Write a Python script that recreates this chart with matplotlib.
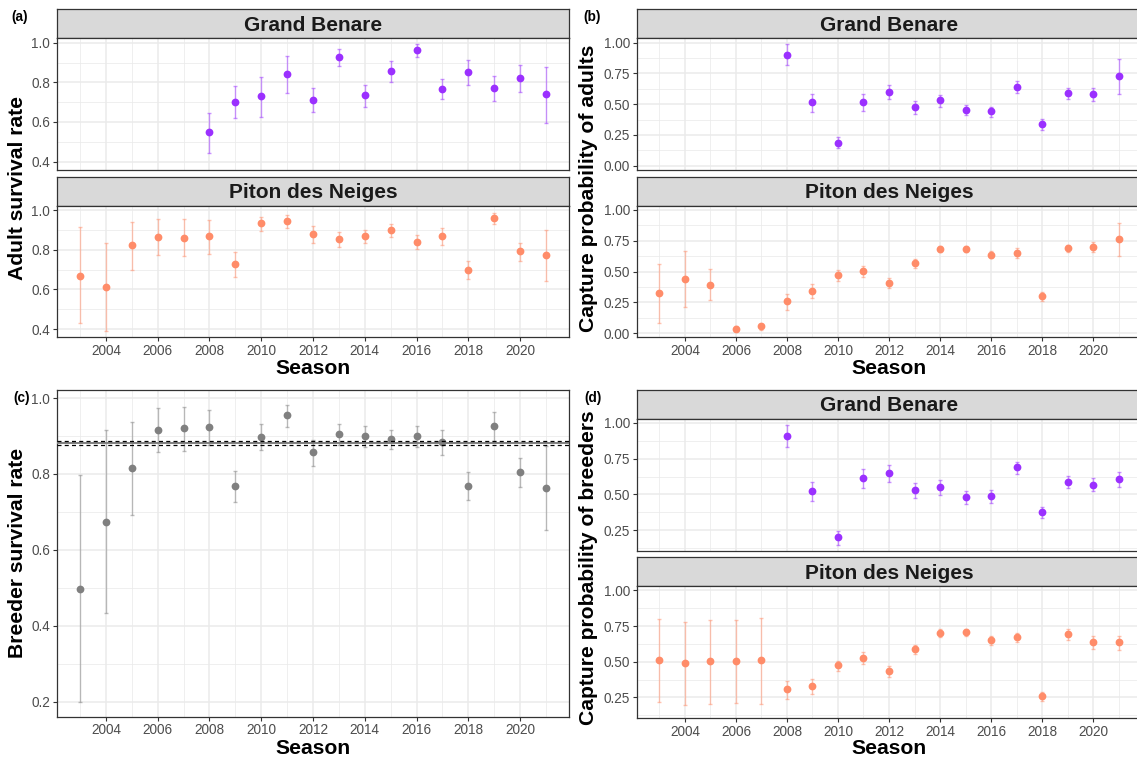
import numpy as np
import matplotlib
matplotlib.use("Agg")
import matplotlib.pyplot as plt
from matplotlib.ticker import FormatStrFormatter

plt.rcParams["font.family"] = ["Liberation Sans", "DejaVu Sans"]

# ---------------------------------------------------------------- data
seasons = list(range(2003, 2022))          # Piton des Neiges / all breeders
gb_seasons = list(range(2008, 2022))       # Grand Benare

# (a) adult survival rate
surv_gb = [0.550, 0.703, 0.730, 0.843, 0.713, 0.927, 0.737, 0.855, 0.962, 0.767, 0.850, 0.772, 0.822, 0.740]
surv_gb_lo = [0.445, 0.620, 0.627, 0.747, 0.652, 0.880, 0.677, 0.802, 0.930, 0.717, 0.787, 0.708, 0.752, 0.597]
surv_gb_hi = [0.645, 0.780, 0.827, 0.933, 0.773, 0.970, 0.787, 0.907, 0.992, 0.817, 0.912, 0.832, 0.885, 0.877]

surv_pdn = [0.670, 0.613, 0.823, 0.865, 0.860, 0.868, 0.727, 0.933, 0.945, 0.877, 0.853, 0.868, 0.900, 0.838, 0.868, 0.697, 0.962, 0.793, 0.773]
surv_pdn_lo = [0.430, 0.388, 0.700, 0.775, 0.768, 0.780, 0.663, 0.897, 0.910, 0.832, 0.813, 0.833, 0.865, 0.802, 0.823, 0.652, 0.930, 0.743, 0.642]
surv_pdn_hi = [0.913, 0.832, 0.940, 0.955, 0.955, 0.950, 0.788, 0.967, 0.975, 0.920, 0.887, 0.898, 0.930, 0.875, 0.910, 0.742, 0.985, 0.835, 0.900]

# (b) capture probability of adults
cap_gb = [0.900, 0.518, 0.187, 0.518, 0.602, 0.480, 0.531, 0.455, 0.442, 0.640, 0.336, 0.590, 0.580, 0.726]
cap_gb_lo = [0.816, 0.439, 0.141, 0.444, 0.545, 0.420, 0.474, 0.409, 0.393, 0.593, 0.287, 0.542, 0.523, 0.580]
cap_gb_hi = [0.986, 0.585, 0.236, 0.580, 0.656, 0.526, 0.577, 0.496, 0.480, 0.686, 0.379, 0.634, 0.634, 0.864]

cap_pdn = [0.324, 0.440, 0.392, 0.035, 0.054, 0.257, 0.346, 0.473, 0.505, 0.411, 0.573, 0.686, 0.686, 0.638, 0.654, 0.300, 0.689, 0.703, 0.765]
cap_pdn_lo = [0.084, 0.210, 0.265, 0.014, 0.027, 0.189, 0.289, 0.424, 0.459, 0.365, 0.530, 0.657, 0.657, 0.608, 0.611, 0.262, 0.657, 0.657, 0.630]
cap_pdn_hi = [0.562, 0.668, 0.519, 0.060, 0.078, 0.319, 0.395, 0.516, 0.543, 0.451, 0.605, 0.711, 0.711, 0.670, 0.692, 0.338, 0.719, 0.743, 0.892]

# (c) breeder survival rate
brd_surv = [0.498, 0.674, 0.815, 0.917, 0.920, 0.923, 0.768, 0.897, 0.954, 0.857, 0.905, 0.899, 0.892, 0.899, 0.883, 0.768, 0.925, 0.804, 0.762]
brd_surv_lo = [0.200, 0.434, 0.691, 0.857, 0.861, 0.875, 0.725, 0.862, 0.924, 0.820, 0.875, 0.870, 0.867, 0.872, 0.850, 0.732, 0.888, 0.766, 0.652]
brd_surv_hi = [0.796, 0.915, 0.937, 0.975, 0.976, 0.968, 0.809, 0.932, 0.982, 0.889, 0.932, 0.925, 0.916, 0.926, 0.915, 0.806, 0.963, 0.842, 0.873]
brd_surv_mean = 0.881
brd_surv_mean_ci = [0.875, 0.887]

# (d) capture probability of breeders
bcap_gb = [0.911, 0.525, 0.199, 0.613, 0.653, 0.532, 0.550, 0.481, 0.485, 0.690, 0.376, 0.588, 0.567, 0.604]
bcap_gb_lo = [0.835, 0.450, 0.147, 0.546, 0.585, 0.474, 0.497, 0.429, 0.439, 0.646, 0.331, 0.541, 0.520, 0.548]
bcap_gb_hi = [0.986, 0.588, 0.245, 0.679, 0.706, 0.578, 0.602, 0.522, 0.532, 0.727, 0.408, 0.627, 0.611, 0.655]

bcap_pdn = [0.513, 0.490, 0.502, 0.508, 0.513, 0.306, 0.329, 0.474, 0.525, 0.432, 0.590, 0.704, 0.709, 0.655, 0.672, 0.259, 0.697, 0.637, 0.637]
bcap_pdn_lo = [0.215, 0.194, 0.206, 0.210, 0.206, 0.238, 0.273, 0.434, 0.485, 0.392, 0.557, 0.672, 0.681, 0.620, 0.639, 0.227, 0.655, 0.592, 0.585]
bcap_pdn_hi = [0.802, 0.781, 0.793, 0.795, 0.807, 0.364, 0.376, 0.506, 0.567, 0.467, 0.620, 0.730, 0.732, 0.683, 0.702, 0.290, 0.732, 0.679, 0.679]

site_names = ["Grand Benare", "Piton des Neiges"]
col_gb = "#9B30FF"
col_pdn = "#FF8C69"
col_all = "#808080"

# ---------------------------------------------------------------- layout
W, H = 1137, 761
fig = plt.figure(figsize=(W / 100, H / 100), dpi=100)

GRID = "#EBEBEB"
FRAME = "#333333"
TICKTXT = "#4D4D4D"


def rect(x0, y0, x1, y1):
    return [x0 / W, 1 - y1 / H, (x1 - x0) / W, (y1 - y0) / H]


def expand(lo_lists, hi_lists, mult=0.05):
    lo = min(min(v) for v in lo_lists)
    hi = max(max(v) for v in hi_lists)
    pad = (hi - lo) * mult
    return lo - pad, hi + pad


x_lim = (seasons[0] - 0.05 * (seasons[-1] - seasons[0]),
         seasons[-1] + 0.05 * (seasons[-1] - seasons[0]))
x_major = list(range(2004, 2021, 2))
x_minor = list(range(2003, 2022, 2))


def style_panel(ax, ylim, y_major, fmt, show_x):
    ax.set_xlim(*x_lim)
    ax.set_ylim(*ylim)
    ax.set_xticks(x_major)
    ax.set_xticks(x_minor, minor=True)
    ax.set_yticks(y_major)
    step = y_major[1] - y_major[0]
    y_minor = [v + step / 2 for v in [y_major[0] - step] + y_major]
    y_minor = [v for v in y_minor if ylim[0] < v < ylim[1]]
    ax.set_yticks(y_minor, minor=True)
    ax.yaxis.set_major_formatter(FormatStrFormatter(fmt))
    ax.grid(which="major", color=GRID, lw=1.1, zorder=0)
    ax.grid(which="minor", color=GRID, lw=0.55, zorder=0)
    ax.set_axisbelow(True)
    for s in ax.spines.values():
        s.set_color(FRAME)
        s.set_linewidth(0.9)
    ax.tick_params(which="minor", length=0)
    ax.tick_params(axis="y", which="major", length=2.8, width=0.8, color=FRAME,
                   labelsize=9.8, labelcolor=TICKTXT, pad=2)
    if show_x:
        ax.tick_params(axis="x", which="major", length=2.8, width=0.8, color=FRAME,
                       labelsize=9.8, labelcolor=TICKTXT, pad=2)
    else:
        ax.tick_params(axis="x", which="major", length=0, labelbottom=False)


def draw_series(ax, years, est, lo, hi, color, lw=1.0):
    est = np.asarray(est)
    err = [est - np.asarray(lo), np.asarray(hi) - est]
    ax.errorbar(years, est, yerr=err, fmt="none", ecolor=color, alpha=0.5,
                elinewidth=lw, capsize=1.2, capthick=lw, zorder=3)
    ax.plot(years, est, "o", color=color, ms=5.6, mec="none", zorder=4)


def strip(x0, y0, x1, y1, label):
    s = fig.add_axes(rect(x0, y0, x1, y1))
    s.set_facecolor("#D9D9D9")
    s.set_xticks([])
    s.set_yticks([])
    for sp in s.spines.values():
        sp.set_color(FRAME)
        sp.set_linewidth(0.9)
    s.text(0.5, 0.45, label, ha="center", va="center", fontsize=15,
           fontweight="bold", color="#1A1A1A", transform=s.transAxes)


def faceted(x0, x1, y_top, strip_h, panel_h, gap, data, ylim, y_major, fmt):
    axes = []
    y = y_top
    for i, (name, (yrs, est, lo, hi, col)) in enumerate(zip(site_names, data)):
        strip(x0, y, x1, y + strip_h, name)
        ax = fig.add_axes(rect(x0, y + strip_h, x1, y + strip_h + panel_h))
        style_panel(ax, ylim, y_major, fmt, show_x=(i == len(data) - 1))
        draw_series(ax, yrs, est, lo, hi, col)
        axes.append(ax)
        y = y + strip_h + panel_h + gap
    return axes


def title_text(x, y, s, rot=0):
    fig.text(x / W, 1 - y / H, s, ha="center", va="center", rotation=rot,
             fontsize=15.2, fontweight="bold", color="black")


def tag(x, y, s):
    fig.text(x / W, 1 - y / H, s, ha="center", va="center",
             fontsize=9.8, fontweight="bold", color="black")


LX0, LX1 = 56.7, 569.3
RX0, RX1 = 636.5, 1141.5

# (a) adult survival
ylim_a = expand([surv_gb_lo, surv_pdn_lo], [surv_gb_hi, surv_pdn_hi])
faceted(LX0, LX1, 9.3, 29.0, 131.7, 6.7,
        [(gb_seasons, surv_gb, surv_gb_lo, surv_gb_hi, col_gb),
         (seasons, surv_pdn, surv_pdn_lo, surv_pdn_hi, col_pdn)],
        ylim_a, [0.4, 0.6, 0.8, 1.0], "%.1f")
title_text(18, 188, "Adult survival rate", rot=90)
title_text((LX0 + LX1) / 2, 368, "Season")
tag(20, 17, "(a)")

# (b) capture probability of adults
ylim_b = expand([cap_gb_lo, cap_pdn_lo], [cap_gb_hi, cap_pdn_hi])
faceted(RX0, RX1, 9.3, 29.0, 131.7, 6.7,
        [(gb_seasons, cap_gb, cap_gb_lo, cap_gb_hi, col_gb),
         (seasons, cap_pdn, cap_pdn_lo, cap_pdn_hi, col_pdn)],
        ylim_b, [0.0, 0.25, 0.5, 0.75, 1.0], "%.2f")
title_text(589, 188, "Capture probability of adults", rot=90)
title_text((RX0 + RX1) / 2, 368, "Season")
tag(592, 17, "(b)")

# (c) breeder survival
ylim_c = expand([brd_surv_lo], [brd_surv_hi])
ax_c = fig.add_axes(rect(LX0, 390, LX1, 716.7))
style_panel(ax_c, ylim_c, [0.2, 0.4, 0.6, 0.8, 1.0], "%.1f", show_x=True)
draw_series(ax_c, seasons, brd_surv, brd_surv_lo, brd_surv_hi, col_all)
ax_c.axhline(brd_surv_mean, color=col_all, lw=1.4, zorder=5)
for v in brd_surv_mean_ci:
    ax_c.axhline(v, color="black", lw=0.9, linestyle=(0, (3.2, 2.6)), zorder=5)
title_text(18, 553, "Breeder survival rate", rot=90)
title_text((LX0 + LX1) / 2, 749, "Season")
tag(22, 398, "(c)")

# (d) capture probability of breeders
ylim_d = expand([bcap_gb_lo, bcap_pdn_lo], [bcap_gb_hi, bcap_pdn_hi])
faceted(RX0, RX1, 390, 29.0, 131.7, 6.7,
        [(gb_seasons, bcap_gb, bcap_gb_lo, bcap_gb_hi, col_gb),
         (seasons, bcap_pdn, bcap_pdn_lo, bcap_pdn_hi, col_pdn)],
        ylim_d, [0.25, 0.5, 0.75, 1.0], "%.2f")
title_text(589, 568, "Capture probability of breeders", rot=90)
title_text((RX0 + RX1) / 2, 749, "Season")
tag(593, 398, "(d)")

fig.savefig("out.png", dpi=100, facecolor="white")
